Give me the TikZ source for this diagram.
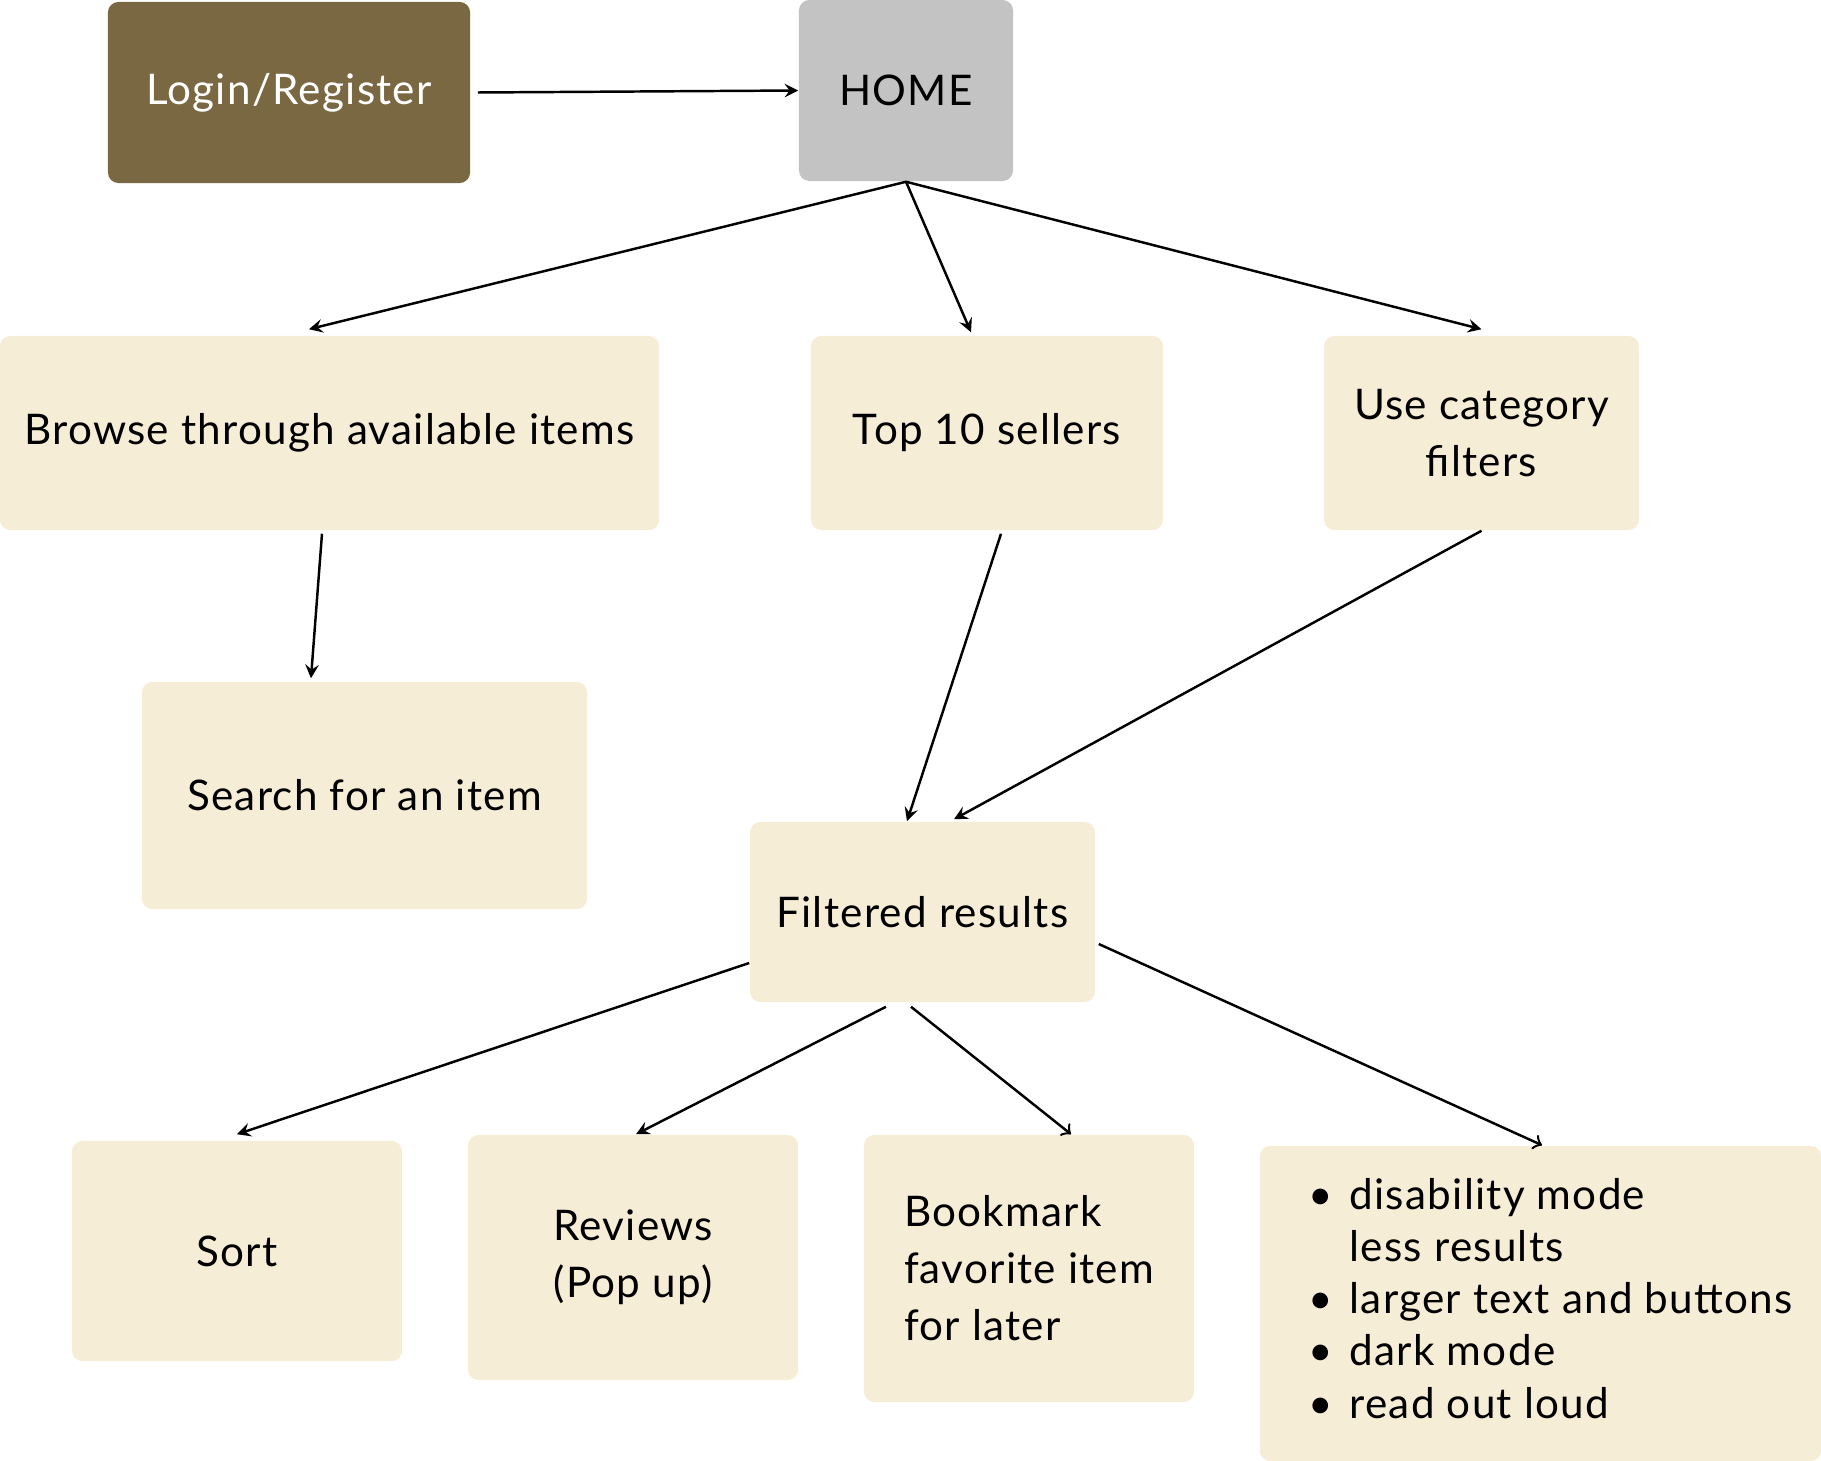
\documentclass[tikz,border=0pt]{standalone}
\usepackage{fontspec}
\setmainfont{Lato}[LetterSpace=3]
\usetikzlibrary{positioning}
\definecolor{cream}{RGB}{246,237,214}
\definecolor{mud}{RGB}{122,104,67}
\definecolor{ash}{RGB}{195,195,195}
\tikzset{
	card/.style={rectangle, rounded corners=3pt, fill=cream, inner sep=0pt, align=center, font=\fontsize{12}{16.2}\selectfont},
	flow/.style={-stealth, line width=0.7pt},
	flowopen/.style={-to, line width=0.7pt},
}
\begin{document}
\begin{tikzpicture}[x=0.01cm, y=-0.01cm]
			\useasboundingbox (0, 0) rectangle (1821, 1461);
			\node at (289, 92.5) [card, fill=mud, text=white, minimum width=3.62cm, minimum height=1.81cm] (login) {Login/Register};
			\node at (906, 90.5) [card, fill=ash, minimum width=2.14cm, minimum height=1.81cm] (home) {HOME};
			\node at (329.5, 433) [card, minimum width=6.59cm, minimum height=1.94cm] (browse) {Browse through available items};
			\node at (987, 433) [card, minimum width=3.52cm, minimum height=1.94cm] (top) {Top 10 sellers};
			\node at (1481.5, 433) [card, minimum width=3.15cm, minimum height=1.94cm] (category) {Use category\\filters};
			\node at (364.5, 795.5) [card, minimum width=4.45cm, minimum height=2.27cm] (search) {Search for an item};
			\node at (922.5, 912) [card, minimum width=3.45cm, minimum height=1.80cm] (filtered) {Filtered results};
			\node at (237, 1251) [card, minimum width=3.30cm, minimum height=2.20cm] (sort) {Sort};
			\node at (633, 1257.5) [card, minimum width=3.30cm, minimum height=2.45cm] (reviews) {Reviews\\(Pop up)};
			\node at (1029, 1268.5) [card, align=left, minimum width=3.30cm, minimum height=2.67cm] (bookmark) {Bookmark\\favorite item\\for later};
			\node at (1540.5, 1303.5) [card, minimum width=5.61cm, minimum height=3.15cm] (access) {%
				\fontsize{12}{14.8}\selectfont\hspace*{0.2cm}%
				\begin{tabular}{@{}l@{\hspace{0.17cm}}l@{}}
				\textbullet & disability mode\\
				 & less results\\
				\textbullet & larger text and buttons\\
				\textbullet & dark mode\\
				\textbullet & read out loud
				\end{tabular}};
			\draw [flow]([xshift=0.07cm]login.east) -- (home.west);
			\draw [flow](home.south) -- ([xshift=-0.205cm, yshift=0.06cm]browse.north);
			\draw [flow](home.south) -- ([xshift=-0.16cm, yshift=0.03cm]top.north);
			\draw [flow](home.south) -- ([yshift=0.06cm]category.north);
			\draw [flow]([xshift=-0.075cm, yshift=-0.03cm]browse.south) -- ([xshift=-0.535cm, yshift=0.03cm]search.north);
			\draw [flow]([xshift=0.14cm, yshift=-0.03cm]top.south) -- ([xshift=-0.155cm]filtered.north);
			\draw [flow](category.south) -- ([xshift=0.315cm, yshift=0.02cm]filtered.north);
			\draw [flow]([yshift=-0.51cm]filtered.west) -- ([yshift=0.06cm]sort.north);
			\draw [flow]([xshift=-0.365cm, yshift=-0.04cm]filtered.south) -- ([xshift=0.03cm]reviews.north);
			\draw [flowopen]([xshift=-0.115cm, yshift=-0.04cm]filtered.south) -- ([xshift=0.42cm]bookmark.north);
			\draw [flowopen]([xshift=0.03cm, yshift=-0.32cm]filtered.east) -- ([xshift=0.015cm]access.north);
		\end{tikzpicture}
\end{document}
